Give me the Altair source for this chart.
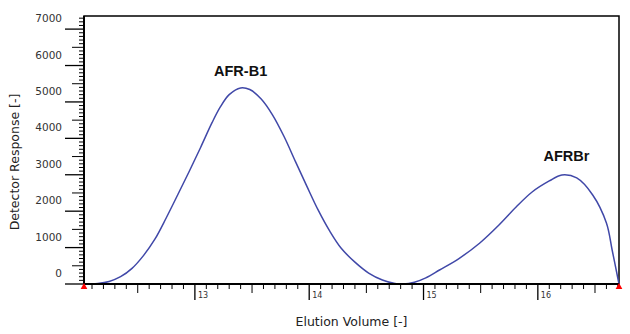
import altair as alt
import pandas as pd

# Chromatogram trace
volume = [12.03, 12.15, 12.25, 12.35, 12.45, 12.55, 12.65, 12.75, 12.85, 12.95,
          13.05, 13.15, 13.22, 13.30, 13.40, 13.48, 13.58, 13.68, 13.78, 13.88,
          13.98, 14.08, 14.18, 14.28, 14.40, 14.52, 14.64, 14.75, 14.82, 14.92,
          15.02, 15.14, 15.31, 15.49, 15.66, 15.81, 15.95, 16.10, 16.21, 16.34,
          16.48, 16.60, 16.65, 16.71]
response = [0, 15, 70, 200, 430, 780, 1230, 1820, 2450, 3090,
            3750, 4430, 4850, 5200, 5385, 5340, 5080, 4640, 4050, 3360,
            2680, 2020, 1450, 980, 600, 300, 110, 15, 0, 50,
            170, 385, 700, 1120, 1620, 2115, 2527, 2830, 2995, 2912,
            2445, 1676, 934, 0]

# Peak annotations
peak_names = ["AFR-B1", "AFRBr"]
peak_x = [13.40, 16.25]
peak_y = [5385, 2990]

# Integration bound markers
bound_x = [12.03, 16.71]
bound_y = [0, 0]

# Axis ticks and labels
x_major = [13, 14, 15, 16]
x_major_labels = ["13", "14", "15", "16"]
x_medium = [12.5, 13.5, 14.5, 15.5, 16.5]
x_minor = [round(12.1 + 0.1 * i, 1) for i in range(47)]
x_minor = [v for v in x_minor if round(v * 10) % 5 != 0]
y_major = [0, 1000, 2000, 3000, 4000, 5000, 6000, 7000]
y_major_labels = ["0", "1000", "2000", "3000", "4000", "5000", "6000", "7000"]
y_medium = [500, 1500, 2500, 3500, 4500, 5500, 6500]
y_minor = [v for v in range(100, 7400, 100) if v % 500 != 0]

x_title = "Elution Volume [-]"
y_title = "Detector Response [-]"

df = pd.DataFrame({"volume": volume, "response": response})
ann = pd.DataFrame({"name": peak_names, "x": peak_x, "y": peak_y})
bounds = pd.DataFrame({"x": bound_x, "y": bound_y})

xs = alt.Scale(domain=[12.03, 16.71], nice=False, zero=False)
ys = alt.Scale(domain=[0, 7360], nice=False, zero=False)

FONT = "DejaVu Sans"
W, H = 535, 268

main = alt.Chart(df).mark_line(color="#4048a8", strokeWidth=1.5, interpolate="catmull-rom").encode(
    x=alt.X("volume:Q", scale=xs, axis=None),
    y=alt.Y("response:Q", scale=ys, axis=None),
)


def y_ticks(vals, length, width):
    return alt.Chart(pd.DataFrame({"v": vals})).mark_rule(color="black", strokeWidth=width).encode(
        y=alt.Y("v:Q", scale=ys, axis=None),
        x=alt.value(-length), x2=alt.value(0),
    )


def x_ticks(vals, length, width):
    return alt.Chart(pd.DataFrame({"v": vals})).mark_rule(color="black", strokeWidth=width).encode(
        x=alt.X("v:Q", scale=xs, axis=None),
        y=alt.value(H), y2=alt.value(H + length),
    )


tick_layers = [
    y_ticks(y_major, 19, 1.3), y_ticks(y_medium, 12, 1), y_ticks(y_minor, 5, 1),
    x_ticks(x_major, 16, 1.3), x_ticks(x_medium, 9, 1), x_ticks(x_minor, 5, 1),
]

# axis lines (left and bottom, heavier than the frame)
frame_left = alt.Chart(pd.DataFrame({"v": [0]})).mark_rule(color="black", strokeWidth=2).encode(
    x=alt.value(0), y=alt.value(0), y2=alt.value(H))
frame_bottom = alt.Chart(pd.DataFrame({"v": [0]})).mark_rule(color="black", strokeWidth=2).encode(
    x=alt.value(0), x2=alt.value(W), y=alt.value(H))

y_labels = alt.Chart(pd.DataFrame({"v": y_major, "t": y_major_labels})).mark_text(
    font=FONT, fontSize=10.5, color="#333", align="right", baseline="middle", dy=-10
).encode(
    y=alt.Y("v:Q", scale=ys, axis=None), x=alt.value(-22), text="t:N")

x_labels = alt.Chart(pd.DataFrame({"v": x_major, "t": x_major_labels})).mark_text(
    font=FONT, fontSize=8, color="#333", align="left", baseline="top", dx=3
).encode(
    x=alt.X("v:Q", scale=xs, axis=None), y=alt.value(H + 8), text="t:N")

x_title_mark = alt.Chart(pd.DataFrame({"t": [x_title]})).mark_text(
    font=FONT, fontSize=12.5, color="#222", align="center", baseline="middle"
).encode(x=alt.value(W / 2), y=alt.value(H + 38), text="t:N")

y_title_mark = alt.Chart(pd.DataFrame({"t": [y_title]})).mark_text(
    font=FONT, fontSize=12.5, color="#222", align="center", baseline="middle", angle=270
).encode(x=alt.value(-69), y=alt.value(146), text="t:N")

labels = []
for i, dy in enumerate([-16, -18]):
    labels.append(
        alt.Chart(ann.iloc[[i]]).mark_text(
            font="Liberation Sans", fontSize=14.5, fontWeight="bold", color="#111", dy=dy
        ).encode(
            x=alt.X("x:Q", scale=xs, axis=None),
            y=alt.Y("y:Q", scale=ys, axis=None),
            text="name:N",
        )
    )

markers = alt.Chart(bounds).mark_point(
    shape="triangle-up", filled=True, color="#ff0000", size=45, opacity=1, yOffset=2
).encode(
    x=alt.X("x:Q", scale=xs, axis=None),
    y=alt.Y("y:Q", scale=ys, axis=None),
)

chart = alt.layer(
    main, *tick_layers, frame_left, frame_bottom, y_labels, x_labels,
    x_title_mark, y_title_mark, *labels, markers
).properties(
    width=W, height=H,
    autosize=alt.AutoSizeParams(type="none"),
    padding={"left": 84, "top": 16, "right": 11, "bottom": 50},
    background="white",
).configure_view(stroke="black", strokeWidth=1.5)

chart.save("out.html", embed_options={"renderer": "svg", "actions": False})
